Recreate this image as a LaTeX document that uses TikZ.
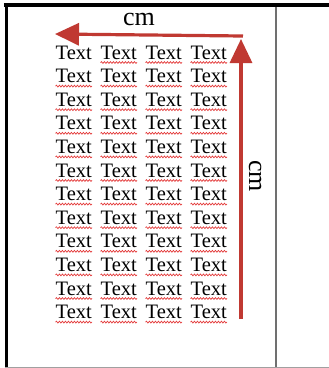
\documentclass[tikz,border=0pt]{standalone}
\usepackage{fontspec}
\setmainfont{Liberation Serif}
\usetikzlibrary{
    arrows.meta,
    decorations.pathmorphing,
    positioning
}
\definecolor{arrowred}{RGB}{192,57,50}
\definecolor{squigglered}{RGB}{228,60,60}
\definecolor{rulegray}{RGB}{112,112,112}
\definecolor{pagegray}{RGB}{160,160,160}
\tikzset{
    word/.style={anchor=base west, inner sep=0pt, font=\fontsize{20.5}{24}\selectfont},
    squiggle/.style={draw=squigglered, line width=0.7pt, decorate,
        decoration={snake, amplitude=0.9pt, segment length=3pt}},
    unit/.style={inner sep=0pt, font=\fontsize{26}{30}\selectfont},
    bigarrow/.style={draw=arrowred, line width=3.2pt,
        -{Triangle[length=24pt,width=22pt]}}
}

\begin{document}
\begin{tikzpicture}[x=1pt,y=-1pt]
    \useasboundingbox (0,0) rectangle (329,368);
    \fill[white] (0,0) rectangle (329,368);

    \draw[black, line width=4pt] (4,5) -- (329,5);
    \draw[black, line width=3.5pt] (6.5,3) -- (6.5,368);
    \draw[pagegray, line width=1pt] (5,367) -- (329,367);
    \draw[rulegray, line width=2pt] (276,7) -- (276,367);

    \foreach \r in {1,...,12} {
        \foreach \c in {1,...,4} {
            \node[word] (w-\r-\c) at ({55.5+45*(\c-1)}, {59+23.6*(\r-1)}) {Text};
        }
    }
    \foreach \r/\c in {1/2,1/3,1/4} {
        \draw[squiggle] ([yshift=-3.5pt]w-\r-\c.base west) -- ([yshift=-3.5pt]w-\r-\c.base east);
    }
    \foreach \r in {2,...,12} {
        \foreach \c in {1,...,4} {
            \draw[squiggle] ([yshift=-3.5pt]w-\r-\c.base west) -- ([yshift=-3.5pt]w-\r-\c.base east);
        }
    }

    \coordinate (top start) at (243,36);
    \coordinate (top end) at (55,34);
    \coordinate (side start) at (241,319);
    \coordinate (side end) at (241,39);

    \draw[bigarrow] (top start) -- (top end);
    \draw[bigarrow] (side start) -- (side end);

    \node[unit] (top cm) at (139,19) {cm};
    \node[unit, rotate=-90] (side cm) at (255,176) {cm};
\end{tikzpicture}
\end{document}
